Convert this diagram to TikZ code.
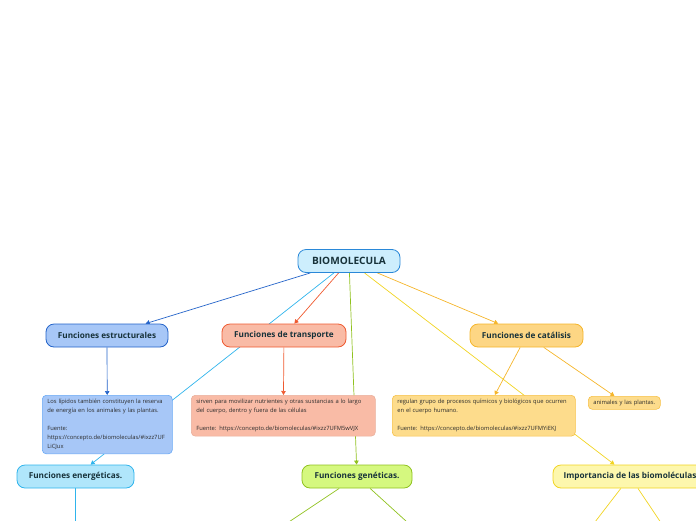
\documentclass[tikz,border=0pt]{standalone}
\usepackage{fontspec}
\setmainfont{Open Sans}
\usepackage{tikz}
\usetikzlibrary{arrows.meta,backgrounds}

\definecolor{titletext}{HTML}{17323A}
\definecolor{notetext}{HTML}{2B2B2B}
\definecolor{biomfill}{HTML}{CDEEFD}
\definecolor{biomdraw}{HTML}{2A88D8}
\definecolor{estrfill}{HTML}{A7C7F7}
\definecolor{estrdraw}{HTML}{2363C9}
\definecolor{estrnote}{HTML}{6AAAF5}
\definecolor{transpfill}{HTML}{F9BBA6}
\definecolor{transpdraw}{HTML}{EF5A30}
\definecolor{catalfill}{HTML}{FDD684}
\definecolor{cataldraw}{HTML}{F5B52A}
\definecolor{catalnote}{HTML}{FDDC8C}
\definecolor{energfill}{HTML}{B0E6FB}
\definecolor{energdraw}{HTML}{2FB4EC}
\definecolor{genetfill}{HTML}{D5F87F}
\definecolor{genetdraw}{HTML}{90C21F}
\definecolor{importfill}{HTML}{FDF7AD}
\definecolor{importdraw}{HTML}{F1D422}

\begin{document}
\begin{tikzpicture}[x=1pt,y=-1pt,
  topic/.style n args={3}{draw=#1,fill=#2,line width=0.8pt,rounded corners=8pt,minimum width=#3,minimum height=23pt,inner sep=0pt,text=titletext,font=\fontsize{8.2}{10}\selectfont\bfseries},
  note/.style n args={3}{draw=#1,fill=#2,line width=0.6pt,rounded corners=4pt,anchor=north west,text width=#3,align=left,inner xsep=5pt,inner ysep=4pt,text=notetext,font=\fontsize{5.8}{9}\selectfont},
  link/.style={draw=#1,line width=0.7pt,-{Triangle[width=4.5pt,length=4pt]}}]
\clip (0,0) rectangle (696,520);
% main topic and its branches
\node[topic={biomdraw}{biomfill}{102pt},font=\fontsize{10.1}{12}\selectfont\bfseries] (biom) at (349,261) {BIOMOLECULA};
\node[topic={estrdraw}{estrfill}{122pt}] (estr) at (107,335.5) {Funciones estructurales};
\node[topic={transpdraw}{transpfill}{124pt}] (transp) at (284,335.5) {Funciones de transporte};
\node[topic={cataldraw}{catalfill}{113pt}] (catal) at (526.5,335.5) {Funciones de catálisis};
\node[topic={energdraw}{energfill}{117pt}] (energ) at (75.5,476.5) {Funciones energéticas.};
\node[topic={genetdraw}{genetfill}{110pt}] (genet) at (357,476.5) {Funciones genéticas.};
\node[topic={importdraw}{importfill}{154pt}] (import) at (630,476.5) {Importancia de las biomoléculas};
% notes
\node[note={estrnote}{estrfill}{120pt},minimum height=58pt] (estrtxt) at (42,395)
  {Los lípidos también constituyen la reserva\\de energía en los animales y las plantas.\\[9pt]Fuente:\\https://concepto.de/biomoleculas/\#ixzz7UF\\LiCJux};
\node[note={transpfill!90!black!60!transpfill}{transpfill}{174pt},minimum height=40pt] (transptxt) at (191,395)
  {sirven para movilizar nutrientes y otras sustancias a lo largo\\del cuerpo, dentro y fuera de las células\\[9pt]Fuente: https://concepto.de/biomoleculas/\#ixzz7UFM5wVJX};
\node[note={cataldraw!70!catalnote}{catalnote}{173pt},minimum height=40pt] (catatxt) at (392,395)
  {regulan grupo de procesos químicos y biológicos que ocurren\\en el cuerpo humano.\\[9pt]Fuente: https://concepto.de/biomoleculas/\#ixzz7UFMYiEKJ};
\node[note={cataldraw!70!catalnote}{catalnote}{62pt},minimum height=13pt,inner ysep=2pt] (anim) at (588,396) {animales y las plantas.};
% children below the frame
\coordinate (energsub) at (75.5,560);
\coordinate (genetA) at (207,576.5);
\coordinate (genetB) at (467,576.5);
\coordinate (importA) at (553,576.5);
\coordinate (importB) at (697,576.5);
\begin{scope}[on background layer]
\foreach \a/\b/\c in {biom/estr/estrdraw,biom/transp/transpdraw,biom/energ/energdraw,
  biom/genet/genetdraw,biom/catal/cataldraw,biom/import/importdraw,
  estr/estrtxt/estrdraw,transp/transptxt/transpdraw,catal/catatxt/cataldraw,catal/anim/cataldraw,
  energ/energsub/energdraw,genet/genetA/genetdraw,genet/genetB/genetdraw,
  import/importA/importdraw,import/importB/importdraw} {
  \draw[link=\c] (\a) -- (\b);
}
\end{scope}
\end{tikzpicture}
\end{document}
